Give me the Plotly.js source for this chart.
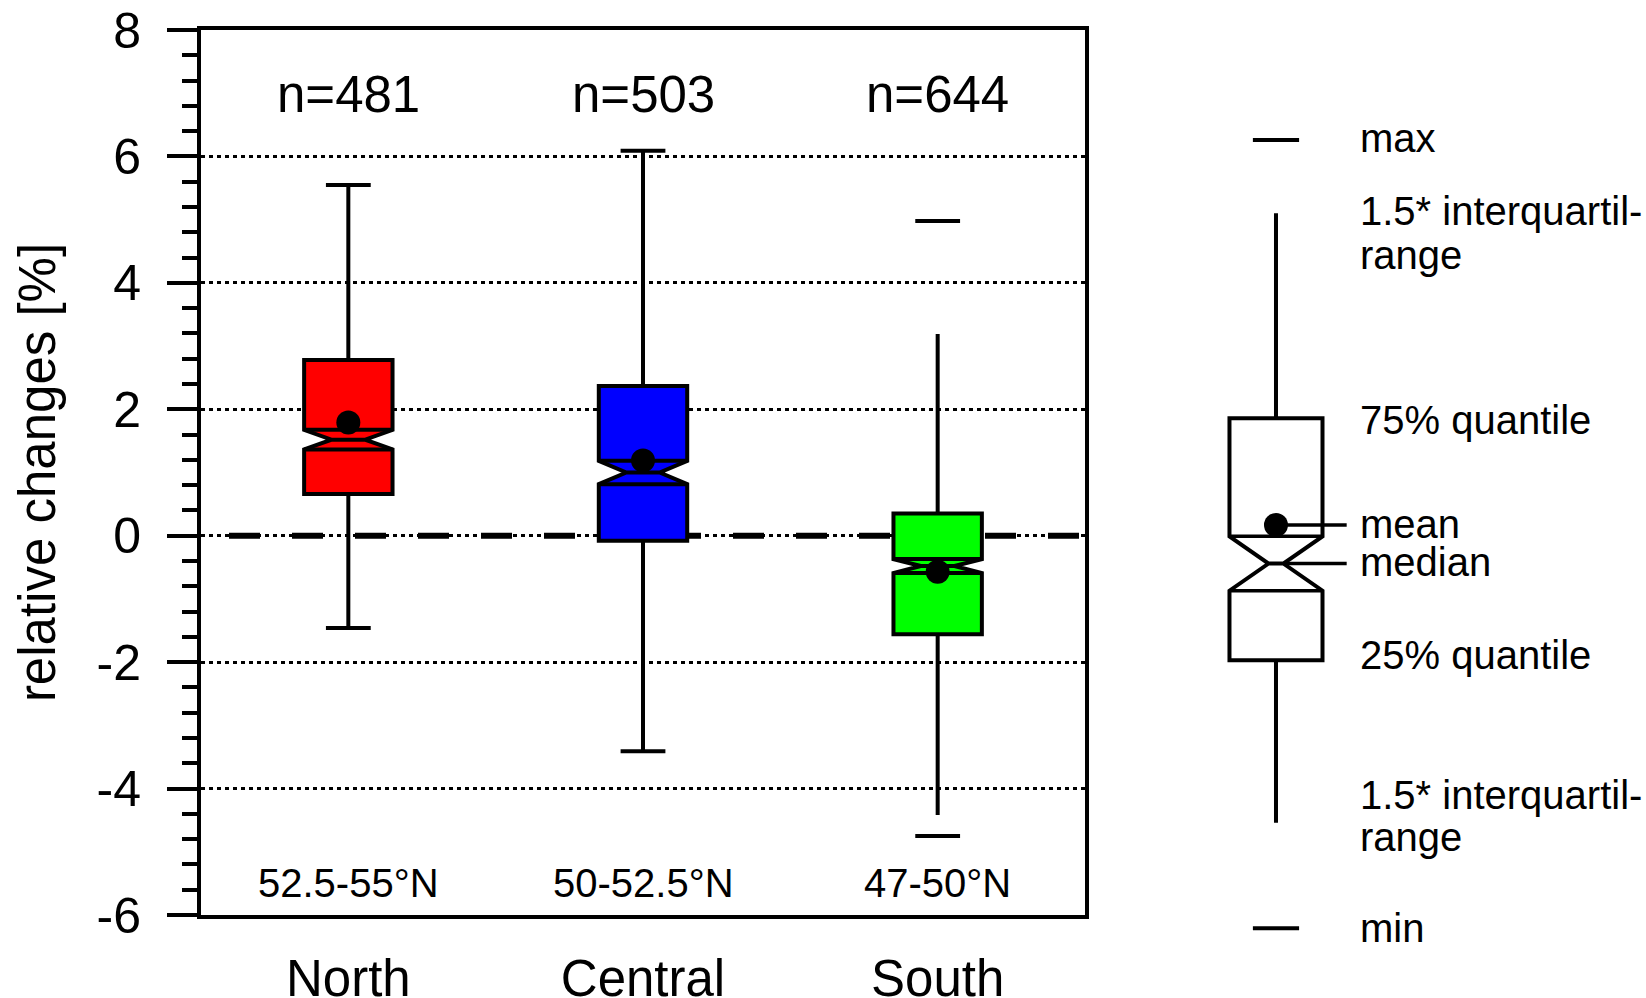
<!DOCTYPE html>
<html><head><meta charset="utf-8">
<script src="https://cdn.plot.ly/plotly-3.0.1.min.js"></script>
<style>html,body{margin:0;padding:0;background:#fff;} #chart{width:1646px;height:998px;}</style>
</head><body><div id="chart"></div>
<script>
// ---- data ----
const regions = ['North', 'Central', 'South'];
const latitudes = ['52.5-55°N', '50-52.5°N', '47-50°N'];
const counts = [481, 503, 644];
const colors = ['#ff0000', '#0000ff', '#00ff00'];
const q1 = [0.66, -0.08, -1.56];
const medians = [1.52, 1.00, -0.48];
const q3 = [2.78, 2.37, 0.35];
const lowerWhisker = [-1.46, -3.41, -4.42];
const upperWhisker = [5.55, 6.09, 3.19];
const minima = [-1.46, -3.41, -4.75];
const maxima = [5.55, 6.09, 4.98];
const means = [1.79, 1.19, -0.57];
const notchSpan = [0.155, 0.185, 0.11];
const yTickVals = [-6, -4, -2, 0, 2, 4, 6, 8];
const yTickText = ['-6', '-4', '-2', '0', '2', '4', '6', '8'];

// ---- key (schematic box on the right) ----
const keyStats = ['max', 'upper', 'q3', 'mean', 'median', 'q1', 'lower', 'min'];
const keyValues = [6.26, 5.10, 1.86, 0.17, -0.44, -1.97, -4.54, -6.21];
const keyNotch = [0.43];
const keyLabels = ['max', '1.5* interquartil-', 'range', '75% quantile', 'mean', 'median', '25% quantile', '1.5* interquartil-', 'range', 'min'];
const keyLabelY = [6.29, 5.13, 4.44, 1.83, 0.19, -0.42, -1.88, -4.10, -4.77, -6.20];

const FONT = 'Liberation Sans, Arial, Helvetica, sans-serif';
const K = {};
keyStats.forEach((k, i) => K[k] = keyValues[i]);

const traces = [];
const halfW = 0.15;
regions.forEach((r, i) => {
  traces.push({
    type: 'box', x: [i], q1: [q1[i]], median: [medians[i]], q3: [q3[i]],
    lowerfence: [lowerWhisker[i]], upperfence: [upperWhisker[i]], notchspan: [notchSpan[i]],
    notched: true, notchwidth: 0.31, width: 0.30, whiskerwidth: 0,
    fillcolor: colors[i], line: {color: '#000', width: 4}, boxpoints: false,
    hoverinfo: 'skip', showlegend: false, xaxis: 'x', yaxis: 'y'
  });
});
// horizontal lines at notch ends
const nx = [], ny = [];
regions.forEach((r, i) => {
  [medians[i] + notchSpan[i], medians[i] - notchSpan[i]].forEach(v => {
    nx.push(i - halfW, i + halfW, null); ny.push(v, v, null);
  });
});
traces.push({type: 'scatter', mode: 'lines', x: nx, y: ny, line: {color: '#000', width: 4}, hoverinfo: 'skip', showlegend: false});
// max / min dashes
traces.push({
  type: 'scatter', mode: 'markers', x: regions.map((r, i) => i).concat(regions.map((r, i) => i)),
  y: maxima.concat(minima), marker: {symbol: 'line-ew', size: 32, line: {color: '#000', width: 4}},
  hoverinfo: 'skip', showlegend: false, cliponaxis: false
});
// means
traces.push({
  type: 'scatter', mode: 'markers', x: regions.map((r, i) => i), y: means,
  marker: {symbol: 'circle', size: 24, color: '#000'}, hoverinfo: 'skip', showlegend: false
});

// key traces
traces.push({
  type: 'box', x: [0], q1: [K.q1], median: [K.median], q3: [K.q3], lowerfence: [K.lower], upperfence: [K.upper],
  notchspan: keyNotch, notched: true, notchwidth: 0.42, width: 1, whiskerwidth: 0,
  fillcolor: '#ffffff', line: {color: '#000', width: 4}, boxpoints: false, hoverinfo: 'skip',
  showlegend: false, xaxis: 'x2', yaxis: 'y2'
});
traces.push({
  type: 'scatter', mode: 'lines', xaxis: 'x2', yaxis: 'y2',
  x: [-0.5, 0.5, null, -0.5, 0.5, null, 0, 0.76, null, 0.08, 0.76],
  y: [K.median + keyNotch[0], K.median + keyNotch[0], null, K.median - keyNotch[0], K.median - keyNotch[0], null, K.mean, K.mean, null, K.median, K.median],
  line: {color: '#000', width: 3.5}, hoverinfo: 'skip', showlegend: false
});
traces.push({
  type: 'scatter', mode: 'markers', xaxis: 'x2', yaxis: 'y2', x: [0, 0], y: [K.max, K.min],
  marker: {symbol: 'line-ew', size: 33, line: {color: '#000', width: 4}}, hoverinfo: 'skip', showlegend: false, cliponaxis: false
});
traces.push({
  type: 'scatter', mode: 'markers', xaxis: 'x2', yaxis: 'y2', x: [0], y: [K.mean],
  marker: {symbol: 'circle', size: 24, color: '#000'}, hoverinfo: 'skip', showlegend: false
});

const annotations = [];
regions.forEach((r, i) => {
  annotations.push({xref: 'x', yref: 'y', x: i, y: 6.98, text: 'n=' + counts[i], showarrow: false,
    xanchor: 'center', yanchor: 'middle', font: {size: 51, family: FONT, color: '#000'}});
  annotations.push({xref: 'x', yref: 'y', x: i, y: -5.50, text: latitudes[i], showarrow: false,
    xanchor: 'center', yanchor: 'middle', font: {size: 40, family: FONT, color: '#000'}});
});
keyLabels.forEach((t, i) => {
  annotations.push({xref: 'x2', yref: 'y2', x: 0.88, y: keyLabelY[i], text: t, showarrow: false,
    xanchor: 'left', yanchor: 'middle', align: 'left', font: {size: 40, family: FONT, color: '#000'}});
});

const layout = {
  width: 1646, height: 998, margin: {l: 0, r: 0, t: 0, b: 0},
  paper_bgcolor: '#ffffff', plot_bgcolor: 'rgba(0,0,0,0)',
  font: {family: FONT, color: '#000'}, showlegend: false,
  xaxis: {
    domain: [201 / 1646, 1085 / 1646], range: [-0.5, 2.5], tickvals: [0, 1, 2], ticktext: regions,
    ticks: '', showgrid: false, zeroline: false, showline: true, mirror: true, linewidth: 4, linecolor: '#000',
    tickfont: {size: 51, family: FONT, color: '#000'}, ticklabelstandoff: 16
  },
  yaxis: {
    domain: [1 - 915 / 998, 1 - 30 / 998], range: [-6, 8], tickmode: 'array', tickvals: yTickVals, ticktext: yTickText,
    ticks: 'outside', ticklen: 30, tickwidth: 4, tickcolor: '#000',
    showline: true, mirror: true, linewidth: 4, linecolor: '#000',
    showgrid: true, gridcolor: '#000', gridwidth: 3, griddash: '4px,4px', zeroline: false,
    tickfont: {size: 50, family: FONT, color: '#000'}, ticklabelstandoff: 16,
    minor: {tickmode: 'linear', tick0: 0, dtick: 0.4, ticks: 'outside', ticklen: 15, tickwidth: 4, tickcolor: '#000', showgrid: false},
    title: {text: 'relative changes [%]', font: {size: 51, family: FONT, color: '#000'}, standoff: 26}
  },
  xaxis2: {domain: [1180 / 1646, 1], range: [-1.032, 3.978], visible: false, anchor: 'y2'},
  yaxis2: {domain: [0, 1], range: [-7.313, 8.475], visible: false, anchor: 'x2'},
  shapes: [{type: 'line', xref: 'x domain', x0: 0, x1: 1, yref: 'y', y0: 0, y1: 0,
    line: {color: '#000', width: 6, dash: '0px,28px,31px,4px'}, layer: 'below'}],
  annotations: annotations
};

Plotly.newPlot('chart', traces, layout, {staticPlot: true, displayModeBar: false});
</script>
</body></html>
